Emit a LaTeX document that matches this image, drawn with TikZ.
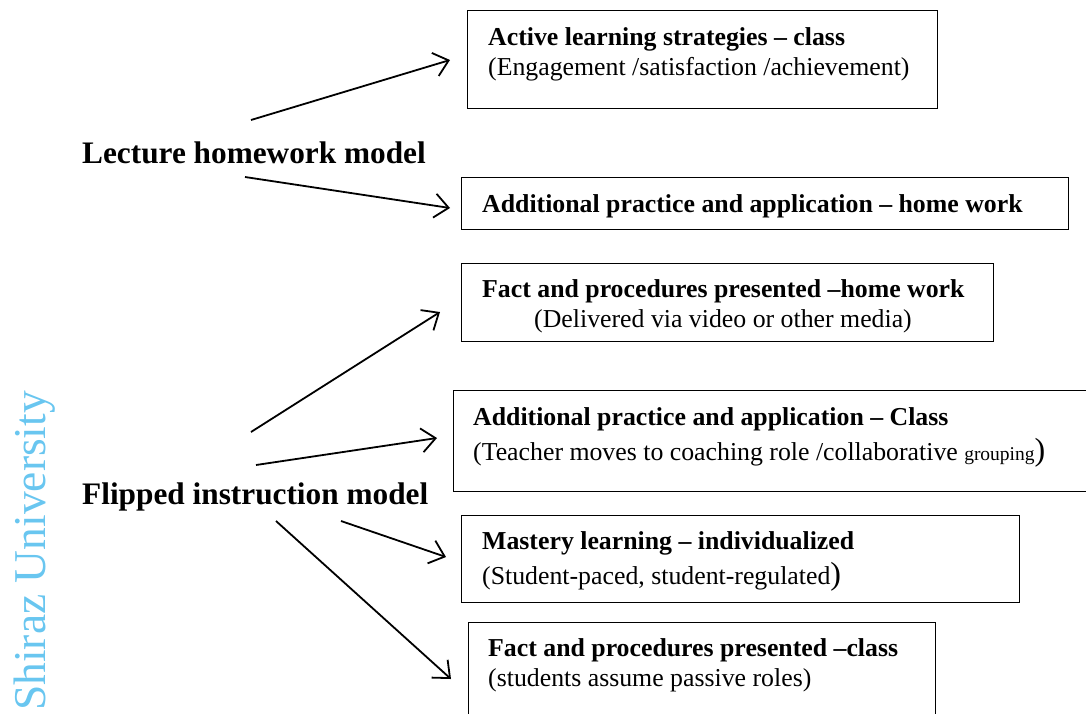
\documentclass[tikz,border=0pt]{standalone}
\usepackage{fontspec}
\setmainfont{Liberation Serif}
\usetikzlibrary{arrows.meta}

\definecolor{wmblue}{RGB}{105,198,240}

\tikzset{
  box/.style={draw, line width=1.2pt, anchor=north west, inner sep=0pt},
  boxtext/.style={anchor=base west, inner sep=0pt, font=\fontsize{25.8}{30}\selectfont},
  model/.style={anchor=base west, inner sep=0pt, font=\fontsize{31.3}{36}\selectfont\bfseries},
  link/.style={line width=1.8pt, -{Straight Barb[length=14pt,width=24pt,line width=1.8pt]}}
}

\begin{document}
\begin{tikzpicture}[x=1pt,y=-1pt]
            \useasboundingbox (0,0) rectangle (1086,713);
            \clip (0,0) rectangle (1086,713);

            % watermark
            \node[anchor=base west, rotate=90, inner sep=0pt, text=wmblue,
                  font=\fontsize{45.5}{50}\selectfont] (mark) at (45,711) {Shiraz University};

            % the two models
            \node[model] (lecture) at (82,163) {Lecture homework model};
            \node[model] (flipped) at (82,504) {Flipped instruction model};

            % boxes
            \node[box, minimum width=470, minimum height=98] (active) at (467,10) {};
            \node[boxtext] (active1) at (488,45) {\bfseries Active learning strategies -- class};
            \node[boxtext] (active2) at (488,75) {(Engagement /satisfaction /achievement)};

            \node[box, minimum width=607, minimum height=52] (homeprac) at (461,177) {};
            \node[boxtext] (homeprac1) at (482,212) {\bfseries Additional practice and application -- home work};

            \node[box, minimum width=532, minimum height=78] (facthome) at (461,263) {};
            \node[boxtext] (facthome1) at (482,297) {\bfseries Fact and procedures presented --home work};
            \node[boxtext, anchor=base] (facthome2) at (723,327) {(Delivered via video or other media)};

            \node[box, minimum width=640, minimum height=101] (classprac) at (453,390) {};
            \node[boxtext] (classprac1) at (473,425) {\bfseries Additional practice and application -- Class};
            \node[boxtext] (classprac2) at (473,460) {(Teacher moves to coaching role /collaborative {\fontsize{19.5}{22}\selectfont grouping}{\fontsize{32}{34}\selectfont )}};

            \node[box, minimum width=558, minimum height=87] (mastery) at (461,515) {};
            \node[boxtext] (mastery1) at (482,549) {\bfseries Mastery learning -- individualized};
            \node[boxtext] (mastery2) at (482,584) {(Student-paced, student-regulated{\fontsize{32}{34}\selectfont )}};

            \node[box, minimum width=467, minimum height=110] (factclass) at (468,622) {};
            \node[boxtext] (factclass1) at (488,656) {\bfseries Fact and procedures presented --class};
            \node[boxtext] (factclass2) at (488,686) {(students assume passive roles)};

            % arrow ends
            \coordinate (l1) at (251,120);
            \coordinate (l2) at (245,177);
            \coordinate (f1) at (251,432);
            \coordinate (f2) at (256,465);
            \coordinate (f3) at (341,521);
            \coordinate (f4) at (276,521);
            \coordinate (a) at (450,60);
            \coordinate (h) at (450,208);
            \coordinate (fh) at (440,312);
            \coordinate (cp) at (437,438);
            \coordinate (m) at (446,557);
            \coordinate (fc) at (451,679);

            \draw[link] (l1) -- (a);
            \draw[link] (l2) -- (h);
            \draw[link] (f1) -- (fh);
            \draw[link] (f2) -- (cp);
            \draw[link] (f3) -- (m);
            \draw[link] (f4) -- (fc);
\end{tikzpicture}
\end{document}
